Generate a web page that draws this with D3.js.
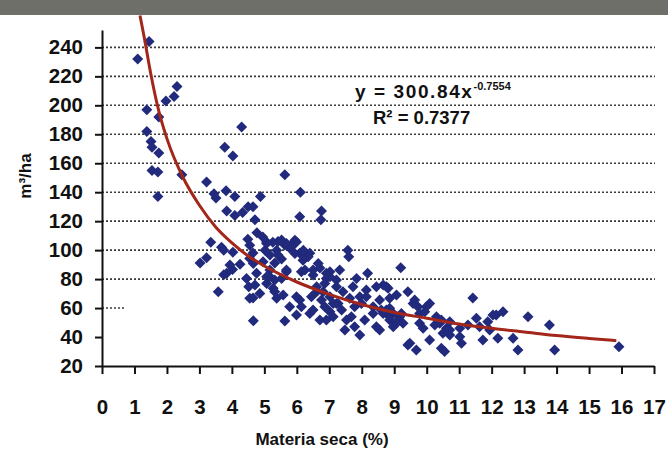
<!DOCTYPE html>
<html lang="es">
<head>
  <meta charset="UTF-8">
  <title>m3/ha vs Materia seca</title>
  <script src="https://d3js.org/d3.v7.min.js"></script>
  <style>
    body { margin: 0; padding: 0; background: #fff; }
    svg { display: block; }
    text { font-family: 'Liberation Sans', Arial, sans-serif; font-weight: bold; fill: #111; }
  </style>
</head>
<body>
  <div id="chart"></div>

  <script>
    // puntos
    const materiaSeca = [
      1.10, 1.45, 2.31, 2.22, 1.97, 1.38, 1.75, 4.30, 1.38, 1.51, 1.54, 1.75, 3.78, 4.03, 1.54, 1.72,
      2.46, 5.63, 3.22, 3.45, 3.82, 6.11, 1.72, 4.09, 4.88, 3.51, 3.84, 4.09, 4.33, 4.50, 4.65, 4.71,
      4.77, 4.95, 5.26, 5.42, 5.63, 3.35, 3.68, 3.75, 4.03, 4.49, 4.55, 4.65, 5.02, 5.17, 5.38, 5.53,
      5.32, 3.02, 3.22, 3.94, 4.02, 3.84, 3.75, 4.25, 4.45, 4.52, 4.76, 4.71, 5.07, 5.17, 5.32, 5.53,
      5.27, 4.55, 5.38, 3.58, 4.66, 5.63, 6.76, 6.74, 6.09, 7.57, 7.60, 9.20, 11.42, 12.14, 11.88, 5.53,
      5.88, 5.99, 5.78, 6.09, 6.30, 6.40, 8.18, 7.32, 7.02, 6.71, 5.68, 6.14, 6.50, 6.91, 7.22, 7.84,
      8.66, 8.81, 5.58, 6.09, 6.45, 6.61, 7.02, 7.42, 7.63, 7.94, 8.14, 8.55, 8.86, 9.07, 5.99, 6.40,
      6.71, 7.12, 7.38, 7.68, 8.09, 7.94, 8.55, 8.86, 9.27, 7.48, 6.14, 6.86, 7.22, 8.35, 8.76, 9.42,
      9.17, 9.42, 9.63, 9.73, 9.22, 10.09, 9.94, 9.78, 10.25, 10.45, 10.61, 10.71, 9.48, 9.68, 10.09, 10.45,
      10.55, 11.02, 11.07, 11.27, 11.53, 11.73, 12.35, 12.19, 12.66, 12.81, 13.12, 13.78, 13.94, 15.92,
      4.66, 4.65, 5.07, 5.32, 5.94, 5.84, 6.20, 6.35, 6.25, 6.50, 6.61, 6.86, 7.02, 6.76, 7.02, 7.27,
      7.73, 8.45, 8.60, 8.86, 8.97, 9.12, 9.58, 9.99, 9.89, 10.40, 10.71,
      5.68, 5.94, 6.19, 6.66, 6.91, 7.22, 7.99, 8.35, 8.66, 8.97, 9.07, 8.45, 7.78, 7.53, 6.91, 6.50,
      5.78, 5.99, 6.81, 7.12, 8.14, 8.86, 8.76, 7.78,
      5.07, 5.42, 4.96, 4.55, 5.68, 5.17, 4.86, 5.07,
      9.78, 10.30, 10.71, 10.50, 11.02, 11.63, 12.04, 11.94
    ];
    const volumen = [
      232, 244, 213, 206, 203, 197, 192, 185, 182, 175, 171, 167, 171, 165, 155, 154,
      152, 152, 147, 139, 141, 140, 137, 137, 137, 136, 127, 124, 126, 130, 130, 121,
      112, 109, 105.5, 106, 103.6, 105.5, 102, 100, 98.6, 107.6, 103.4, 98, 100, 96.6, 100, 93.8,
      91.2, 91.2, 94.7, 89.7, 86.7, 84, 83, 90.3, 80.5, 74.7, 84, 76, 77, 81.6, 79.3, 80.5,
      73.6, 66.7, 66.7, 71.2, 51.2, 51, 127, 121, 123, 100, 95.4, 87.8, 66.9, 55.2, 50.6, 107,
      104.8, 105.7, 101.4, 97.9, 95.4, 97.9, 84.1, 86.2, 85, 87.6, 85, 85, 82.8, 80.5, 79.3, 80.5,
      75.9, 73.6, 69, 65.5, 67.8, 71.2, 67.8, 71.2, 66.7, 67.8, 72.4, 65.5, 66.7, 69, 55.2, 56.3,
      51.7, 54, 58.6, 54, 51.7, 41.4, 44.8, 51.7, 49.5, 44.8, 60.9, 60.9, 63.2, 60.9, 58.6, 34.5,
      54, 71.2, 65.5, 60.9, 56.3, 63.2, 57.5, 49.5, 48.3, 51.7, 46, 41.4, 35.7, 31, 37.9, 32.2,
      30, 40.2, 35.7, 48.3, 52.9, 37.9, 57.5, 39.1, 39.1, 31, 54, 48.3, 31, 33.3,
      90.8, 67, 104.6, 71.2, 106.9, 102.3, 100, 95.4, 86.2, 86.2, 74.7, 77, 81.6, 65.5, 57.5, 63.2,
      74.7, 74.7, 58.6, 54, 47.1, 51.7, 63.2, 60.9, 46, 49.5, 44.8,
      104.6, 97.7, 93.1, 90.8, 84.1, 74.7, 63.2, 56.3, 56.3, 56.3, 49.5, 47.1, 47.1, 51.7, 51.7, 58.6,
      60.9, 67.8, 71.2, 63.2, 67.8, 59.8, 74.7, 60.9,
      105.7, 96.6, 92, 94.3, 86.2, 86.2, 70.1, 81.6,
      56.3, 54, 50.6, 42.6, 46, 47.1, 55.2, 44.8
    ];

    // línea de tendencia potencial
    const trendX = [1.17, 1.3, 1.5, 1.75, 2, 2.5, 3, 3.5, 4, 4.5, 5, 6, 7, 8, 9, 10, 11, 12, 13, 14, 15, 15.84];
    const trendY = [262, 247, 222, 196, 177, 150, 131, 116, 105, 96, 89, 78, 69.5, 62.5, 57, 53, 49, 46, 43.5, 41, 39, 37.5];

    const xTicks = d3.range(0, 18);
    const yTicks = [20, 40, 60, 80, 100, 120, 140, 160, 180, 200, 220, 240];
    const gridFull = [80, 100, 120, 140, 160, 180, 200, 220, 240];
    const gridShort = [60];

    const W = 668, H = 450;
    const svg = d3.select("#chart").append("svg").attr("width", W).attr("height", H);

    const x = d3.scaleLinear().domain([0, 17]).range([102, 654]);
    const y = d3.scaleLinear().domain([20, 252]).range([366, 30]);

    // rejilla punteada
    svg.append("g").selectAll("line")
      .data(gridFull)
      .enter().append("line")
      .attr("x1", x(0)).attr("x2", 655)
      .attr("y1", d => y(d)).attr("y2", d => y(d))
      .attr("stroke", "#3a3a3a").attr("stroke-width", 1.6)
      .attr("stroke-dasharray", "2,2");
    svg.append("g").selectAll("line")
      .data(gridShort)
      .enter().append("line")
      .attr("x1", x(0)).attr("x2", 124)
      .attr("y1", d => y(d)).attr("y2", d => y(d))
      .attr("stroke", "#3a3a3a").attr("stroke-width", 1.6)
      .attr("stroke-dasharray", "2,2");

    // ejes
    const gx = svg.append("g").attr("transform", `translate(0,${y(20)})`)
      .call(d3.axisBottom(x).tickValues(xTicks).tickSize(8).tickSizeOuter(0).tickPadding(25));
    const gy = svg.append("g").attr("transform", `translate(${x(0)},0)`)
      .call(d3.axisLeft(y).tickValues(yTicks).tickSize(7).tickSizeOuter(0).tickPadding(12));
    [gx, gy].forEach(g => {
      g.select(".domain").attr("stroke", "#111").attr("stroke-width", 2);
      g.selectAll(".tick line").attr("stroke", "#111").attr("stroke-width", 2);
      g.selectAll(".tick text")
        .attr("font-family", "'Liberation Sans', Arial, sans-serif")
        .attr("font-weight", "bold")
        .attr("font-size", 20.5)
        .attr("fill", "#111");
    });

    // puntos
    const pts = materiaSeca.map((v, i) => [v, volumen[i]]);
    svg.append("g").selectAll("path")
      .data(pts)
      .enter().append("path")
      .attr("d", "M0,-5.5L5.5,0L0,5.5L-5.5,0Z")
      .attr("transform", d => `translate(${x(d[0])},${y(d[1])})`)
      .attr("fill", "#212a7c");

    // tendencia
    svg.append("path")
      .datum(trendX.map((v, i) => [v, trendY[i]]))
      .attr("fill", "none")
      .attr("stroke", "#a3261a")
      .attr("stroke-width", 3)
      .attr("d", d3.line().x(d => x(d[0])).y(d => y(d[1])).curve(d3.curveMonotoneX));

    // ecuación
    const eq = svg.append("text").attr("x", 355).attr("y", 98).attr("font-size", 19);
    eq.append("tspan").attr("letter-spacing", 1.6).text("y = 300.84x");
    eq.append("tspan").attr("font-size", 11).attr("dy", -8).text("-0.7554");
    svg.append("text").attr("x", 373).attr("y", 124).attr("font-size", 18.5).text("R² = 0.7377");

    // títulos de ejes
    svg.append("text")
      .attr("transform", "translate(31,176) rotate(-90)")
      .attr("text-anchor", "middle")
      .attr("font-size", 17)
      .text("m³/ha");
    svg.append("text")
      .attr("x", 322).attr("y", 445)
      .attr("text-anchor", "middle")
      .attr("font-size", 17)
      .text("Materia seca (%)");

    // franja superior
    svg.append("rect").attr("x", 0).attr("y", 0).attr("width", W).attr("height", 15).attr("fill", "#6e6f69");
  </script>
</body>
</html>
